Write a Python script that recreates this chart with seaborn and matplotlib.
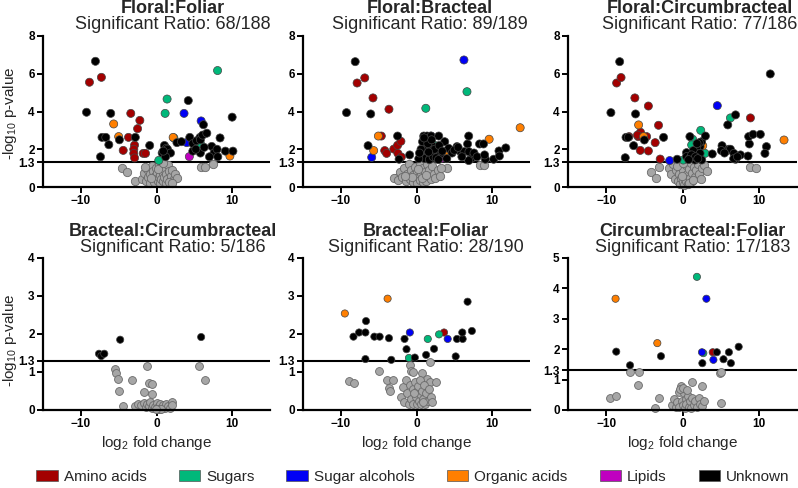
import numpy as np
import pandas as pd
import matplotlib
matplotlib.use('Agg')
import matplotlib.pyplot as plt
from matplotlib.patches import Patch
import seaborn as sns

# Metabolite classes and their colours (legend order)
categories = ['Amino acids', 'Sugars', 'Sugar alcohols', 'Organic acids', 'Lipids', 'Unknown']
class_colors = ['#a30000', '#00b87a', '#0000f5', '#ff7f00', '#c000c0', '#000000']
grey_fill = '#a6a6a6'

# Panel 1: Floral:Foliar  (log2 fold change, -log10 p)
ff_grey = [(-4.5, 0.99), (-3.95, 0.78), (-2.8, 0.32), (5.9, 1.06), (6.45, 1.06), (7.5, 1.22),
           (-1.9, 0.45), (-1.6, 0.75), (-1.4, 0.3), (-1.2, 0.95), (-1.1, 0.55), (-0.9, 0.2), (-0.8, 0.7),
           (-0.6, 1.1), (-0.5, 0.4), (-0.4, 0.85), (-0.3, 0.25), (-0.2, 0.6), (-0.1, 1.0), (0.0, 0.45),
           (0.1, 0.75), (0.2, 0.3), (0.3, 1.2), (0.3, 0.55), (0.4, 0.9), (0.5, 0.2), (0.5, 0.65), (0.6, 0.4),
           (0.7, 1.05), (0.8, 0.75), (0.9, 0.3), (1.0, 0.55), (1.1, 0.9), (1.2, 0.2), (1.3, 0.7), (1.4, 0.45),
           (1.5, 1.15), (1.6, 0.85), (1.8, 0.3), (1.9, 0.6), (2.1, 0.9), (2.3, 0.4), (2.5, 0.7), (2.7, 0.5),
           (0.2, 0.95), (-0.7, 0.5), (0.9, 1.25), (1.7, 0.25), (-1.5, 1.05), (2.0, 0.2)]
ff_amino = [(-8.86, 5.55), (-7.28, 5.81), (-3.4, 3.9), (-2.2, 3.53), (-2.5, 3.09), (-3.7, 2.63), (-2.9, 2.22),
            (-3.0, 2.0), (-3.0, 1.78), (-2.9, 1.54), (-4.4, 1.94), (-1.75, 1.78), (-1.45, 1.78)]
ff_sugars = [(8.07, 6.17), (1.4, 4.66), (1.14, 3.9), (2.3, 2.6), (0.3, 1.41), (5.8, 2.3)]
ff_sugalc = [(3.64, 3.9), (5.9, 3.5), (4.0, 2.35)]
ff_organic = [(-5.66, 3.34), (-5.0, 2.67), (2.2, 2.63), (9.7, 1.64)]
ff_lipids = [(4.34, 1.61)]
ff_unknown = [(-8.07, 6.66), (-9.25, 3.96), (-6.05, 3.9), (-7.2, 2.63), (-6.7, 2.63), (-6.3, 2.24), (-7.4, 1.6),
              (-4.9, 2.5), (-2.8, 2.63), (-0.9, 2.2), (1.05, 2.2), (1.3, 2.05), (1.45, 2.0), (0.75, 1.8),
              (1.85, 1.8), (4.2, 4.58), (4.4, 2.63), (4.8, 1.9), (4.8, 2.3), (5.3, 2.45), (5.75, 2.63),
              (5.8, 2.5), (6.1, 2.75), (6.2, 3.3), (6.65, 2.85), (5.8, 1.8), (2.7, 2.35), (7.3, 2.15),
              (7.6, 1.8), (8.0, 2.0), (8.1, 1.6), (9.1, 1.9), (8.4, 2.6), (10.0, 3.7), (10.1, 1.9),
              (1.2, 1.6), (5.2, 2.0), (6.3, 2.1), (0.9, 1.9), (7.0, 1.6), (3.3, 2.4)]

# Panel 2: Floral:Bracteal
fb_grey = [(-2.76, 0.46), (4.0, 1.02), (8.4, 1.18), (8.9, 1.18),
           (-3.0, 0.5), (-2.5, 0.35), (-2.2, 0.8), (-1.9, 0.55), (-1.6, 1.0), (-1.4, 0.3), (-1.2, 0.7),
           (-1.0, 1.2), (-0.9, 0.45), (-0.7, 0.9), (-0.5, 0.25), (-0.4, 0.65), (-0.2, 1.05), (-0.1, 0.4),
           (0.0, 0.8), (0.1, 0.2), (0.3, 0.55), (0.4, 1.15), (0.5, 0.35), (0.6, 0.75), (0.8, 0.25),
           (0.9, 1.0), (1.0, 0.5), (1.1, 0.8), (1.3, 0.3), (1.4, 1.2), (1.5, 0.6), (1.7, 0.9), (1.9, 0.4),
           (2.1, 1.1), (2.3, 0.7), (2.5, 0.5), (2.8, 0.9), (3.1, 0.6), (3.3, 1.0), (0.2, 0.95),
           (-0.6, 0.55), (0.7, 0.5), (1.2, 0.65), (-1.5, 0.6)]
fb_amino = [(-7.85, 5.51), (-6.84, 5.78), (-5.75, 4.72), (-3.64, 4.12), (-4.65, 2.7), (-4.2, 1.93),
            (-3.95, 1.78), (-3.0, 2.01), (-2.5, 2.21), (-2.06, 2.42), (-2.46, 1.78), (-2.0, 1.59)]
fb_sugars = [(6.67, 5.05), (1.23, 4.17), (2.5, 2.19), (1.2, 1.9)]
fb_sugalc = [(6.27, 6.73), (-5.92, 1.57), (1.9, 2.7), (0.7, 1.9)]
fb_organic = [(13.7, 3.14), (9.6, 2.53), (-5.04, 2.7), (-5.66, 1.93), (1.18, 2.49), (3.73, 1.7)]
fb_lipids = [(3.38, 1.52)]
fb_unknown = [(-8.1, 6.64), (-9.25, 3.94), (-6.05, 3.87), (-6.4, 2.19), (-2.5, 2.7), (-0.9, 1.7), (-2.3, 1.47),
              (0.96, 2.7), (1.4, 2.7), (1.93, 2.7), (2.94, 2.7), (1.18, 2.31), (1.62, 2.14), (0.96, 1.96),
              (0.53, 1.61), (1.4, 1.61), (1.93, 1.75), (2.7, 1.96), (3.16, 1.75), (3.73, 2.4), (4.25, 2.05),
              (5.35, 2.14), (5.8, 1.87), (6.3, 1.87), (6.75, 2.28), (6.9, 2.7), (6.93, 1.87), (7.2, 1.5),
              (6.9, 1.4), (8.33, 2.28), (8.86, 2.28), (9.1, 1.47), (10.2, 1.47), (10.9, 1.91), (10.96, 1.64),
              (11.8, 2.07), (1.75, 2.42), (2.3, 2.14),
              (0.6, 2.0), (0.8, 2.4), (1.1, 1.5), (1.5, 2.3), (1.7, 1.45), (2.0, 2.5), (2.2, 1.6), (2.4, 2.0),
              (0.3, 1.5), (1.0, 2.6), (2.6, 1.55), (3.0, 2.2), (3.4, 1.9), (4.7, 1.8), (5.0, 1.95), (5.5, 2.1),
              (7.6, 1.8), (8.0, 1.6), (9.0, 1.7), (6.0, 1.6), (4.0, 1.5), (0.4, 1.8), (1.6, 1.85), (2.9, 1.45)]

# Panel 3: Floral:Circumbracteal
fc_grey = [(-3.1, 1.08), (-4.16, 0.81), (-3.45, 0.49), (8.8, 1.08), (9.6, 0.99),
           (-1.8, 1.0), (-1.5, 0.7), (-1.3, 1.2), (-1.0, 0.45), (-0.9, 0.9), (-0.6, 0.3), (-0.5, 0.7),
           (-0.3, 0.15), (-0.2, 0.5), (0.0, 0.25), (0.0, 0.9), (0.2, 0.1), (0.3, 0.45), (0.4, 1.15),
           (0.5, 0.3), (0.6, 0.7), (0.7, 0.15), (0.8, 0.95), (1.0, 0.5), (1.1, 1.25), (1.2, 0.3), (1.3, 0.75),
           (1.5, 1.05), (1.6, 0.55), (1.8, 0.9), (2.0, 1.2), (2.2, 0.7), (2.5, 1.0), (2.8, 1.15), (3.2, 0.85),
           (-0.1, 0.6), (0.9, 0.2), (1.4, 0.35), (-0.7, 1.1), (0.1, 1.25), (2.4, 0.45)]
fc_amino = [(-8.63, 5.51), (-8.05, 5.8), (-6.24, 4.72), (-4.47, 4.29), (-5.5, 2.9), (-3.14, 3.27), (-5.8, 2.67),
            (-7.0, 2.67), (-4.7, 2.67), (-3.58, 2.35), (-5.53, 1.94), (-4.47, 1.91), (-2.92, 1.48),
            (8.9, 3.66), (-5.9, 2.75)]
fc_sugars = [(6.28, 3.66), (2.39, 3.0), (1.33, 2.53), (1.2, 2.23), (2.96, 1.78), (0.1, 1.43)]
fc_sugalc = [(4.56, 4.31), (-1.68, 1.4)]
fc_organic = [(-5.75, 3.29), (13.3, 2.49), (2.65, 2.19), (-5.1, 2.67), (5.7, 1.9)]
fc_lipids = []
fc_unknown = [(-8.23, 6.64), (-9.38, 3.94), (-6.15, 3.87), (-7.4, 2.63), (-7.1, 2.63), (-6.4, 2.19), (-7.5, 1.55),
              (-5.0, 2.49), (-2.48, 2.63), (11.5, 5.99), (5.93, 3.29), (6.95, 3.82), (5.18, 2.19), (6.06, 2.0),
              (6.28, 2.0), (5.09, 1.93), (6.73, 1.78), (7.6, 1.7), (6.95, 1.47), (6.7, 1.5), (8.58, 1.64),
              (8.76, 2.28), (8.67, 2.67), (9.25, 2.79), (10.2, 2.79), (11.0, 2.14), (10.8, 1.78), (3.9, 1.75),
              (0.97, 2.67), (2.5, 2.4), (3.0, 2.7), (2.3, 2.14), (1.86, 2.0), (1.42, 1.93), (0.53, 1.82),
              (0.53, 1.61), (0.97, 1.52), (2.3, 1.78), (1.64, 1.43), (2.52, 1.43), (1.2, 1.7), (-0.7, 1.47),
              (2.2, 2.35), (1.7, 1.6), (2.0, 1.5), (0.8, 1.45), (1.9, 2.3), (5.5, 1.8), (7.2, 1.6)]

# Panel 4: Bracteal:Circumbracteal
bc_grey = [(-5.47, 1.07), (-5.3, 0.97), (-5.1, 0.81), (-5.0, 0.51), (-4.4, 0.1), (-3.3, 0.79), (-1.27, 1.15),
           (-1.05, 0.72), (-0.66, 0.69), (-1.6, 0.48), (-0.57, 0.42), (5.65, 1.15), (6.35, 0.79),
           (-2.8, 0.1), (-2.4, 0.15), (-2.0, 0.12), (-1.7, 0.18), (-1.4, 0.08), (-1.2, 0.16), (-1.0, 0.1),
           (-0.8, 0.2), (-0.6, 0.05), (-0.4, 0.14), (-0.2, 0.08), (0.0, 0.18), (0.1, 0.04), (0.3, 0.1),
           (0.4, 0.03), (0.5, 0.15), (0.7, 0.06), (0.9, 0.12), (1.1, 0.05), (1.3, 0.17), (1.5, 0.1),
           (1.8, 0.06), (2.0, 0.22), (2.1, 0.13), (0.2, 0.02), (0.6, 0.02), (-0.1, 0.03)]
bc_amino, bc_sugars, bc_sugalc, bc_organic, bc_lipids = [], [], [], [], []
bc_unknown = [(-7.6, 1.48), (-7.3, 1.42), (-6.9, 1.48), (-4.8, 1.85), (5.9, 1.92)]

# Panel 5: Bracteal:Foliar
bf_grey = [(-8.9, 0.76), (-8.3, 0.7), (-4.96, 1.02), (-3.86, 0.8), (-3.07, 0.8), (-3.7, 0.58), (-3.5, 0.5),
           (-0.8, 1.18), (-0.7, 1.03), (-0.43, 1.0), (1.84, 1.27), (0.75, 0.97), (1.4, 0.82), (1.84, 0.75),
           (2.6, 0.73), (-2.0, 0.35), (-1.8, 0.6), (-1.6, 0.2), (-1.4, 0.8), (-1.2, 0.45), (-1.0, 0.15),
           (-0.9, 0.65), (-0.7, 0.3), (-0.5, 0.55), (-0.4, 0.15), (-0.2, 0.75), (-0.1, 0.35), (0.0, 0.5),
           (0.1, 0.15), (0.2, 0.62), (0.3, 0.25), (0.4, 0.42), (0.5, 0.8), (0.6, 0.15), (0.7, 0.5), (0.9, 0.3),
           (1.0, 0.65), (1.1, 0.15), (1.3, 0.45), (1.5, 0.25), (1.7, 0.55), (1.9, 0.35), (2.1, 0.2),
           (-0.3, 0.45), (0.8, 0.2)]
bf_amino = [(3.64, 2.04)]
bf_sugars = [(1.49, 1.87), (2.98, 1.99), (-1.0, 1.37)]
bf_sugalc = [(-0.88, 2.04), (4.12, 1.87)]
bf_organic = [(-9.47, 2.54), (-3.82, 2.93)]
bf_lipids = []
bf_unknown = [(-8.33, 1.93), (-7.59, 2.04), (-6.75, 2.04), (-6.67, 2.34), (-5.57, 1.93), (-4.87, 1.93),
              (-3.64, 1.89), (-1.58, 1.87), (-1.32, 1.6), (-0.22, 1.38), (1.27, 1.45), (2.32, 1.61),
              (5.18, 1.41), (5.35, 1.87), (6.1, 1.87), (6.05, 2.04), (6.75, 2.85), (7.32, 2.08),
              (-6.75, 1.34), (-3.33, 1.32)]

# Panel 6: Circumbracteal:Foliar
cf_grey = [(-9.56, 0.41), (-8.72, 0.46), (-6.83, 1.26), (-5.64, 1.24), (-5.86, 0.82), (-3.66, 0.05),
           (-3.08, 0.38), (1.28, 0.93), (2.5, 0.8), (4.85, 1.21), (5.07, 1.24), (5.07, 0.22),
           (-1.4, 0.15), (-1.1, 0.35), (-0.9, 0.1), (-0.7, 0.25), (-0.5, 0.6), (-0.4, 0.1), (-0.2, 0.8),
           (-0.1, 0.3), (0.0, 0.15), (0.2, 0.55), (0.3, 0.05), (0.4, 0.35), (0.5, 0.2), (0.7, 0.45),
           (0.8, 0.1), (1.0, 0.3), (1.1, 0.08), (1.3, 0.4), (1.5, 0.15), (1.7, 0.3), (1.9, 0.1), (2.1, 0.38),
           (2.3, 0.2), (2.6, 0.12), (2.8, 0.3), (-0.3, 0.68), (0.1, 0.72), (0.6, 0.65)]
cf_amino = [(3.96, 1.9)]
cf_sugars = [(1.89, 4.38), (2.73, 1.87)]
cf_sugalc = [(3.13, 3.66), (2.55, 1.9), (4.05, 1.65)]
cf_organic = [(-8.77, 3.66), (-3.3, 2.2)]
cf_lipids = []
cf_unknown = [(-8.68, 1.92), (-6.87, 1.47), (-2.82, 1.77), (2.6, 1.54), (4.5, 1.9), (5.37, 1.67),
              (6.08, 1.9), (6.34, 1.54), (7.36, 2.08)]

titles = ['Floral:Foliar', 'Floral:Bracteal', 'Floral:Circumbracteal',
          'Bracteal:Circumbracteal', 'Bracteal:Foliar', 'Circumbracteal:Foliar']
ratios = ['68/188', '89/189', '77/186', '5/186', '28/190', '17/183']
panel_ymax = [8, 8, 8, 4, 4, 5]
panel_yticks = [[0, 1.3, 2, 4, 6, 8], [0, 1.3, 2, 4, 6, 8], [0, 1.3, 2, 4, 6, 8],
                [0, 1, 1.3, 2, 3, 4], [0, 1, 1.3, 2, 3, 4], [0, 1, 1.3, 2, 3, 4, 5]]
panels = [
    (ff_grey, [ff_amino, ff_sugars, ff_sugalc, ff_organic, ff_lipids, ff_unknown]),
    (fb_grey, [fb_amino, fb_sugars, fb_sugalc, fb_organic, fb_lipids, fb_unknown]),
    (fc_grey, [fc_amino, fc_sugars, fc_sugalc, fc_organic, fc_lipids, fc_unknown]),
    (bc_grey, [bc_amino, bc_sugars, bc_sugalc, bc_organic, bc_lipids, bc_unknown]),
    (bf_grey, [bf_amino, bf_sugars, bf_sugalc, bf_organic, bf_lipids, bf_unknown]),
    (cf_grey, [cf_amino, cf_sugars, cf_sugalc, cf_organic, cf_lipids, cf_unknown]),
]

sns.set_style('ticks')
plt.rcParams['font.family'] = ['Liberation Sans', 'DejaVu Sans']
plt.rcParams['mathtext.fontset'] = 'custom'
plt.rcParams['mathtext.rm'] = 'Liberation Sans'
plt.rcParams['mathtext.it'] = 'Liberation Sans:italic'

fig = plt.figure(figsize=(7.98, 4.88), dpi=100)
W, H = 798.0, 488.0
lefts = [43, 303, 568]
widths = [227, 227, 229]
tops = [36, 258]
bottoms = [187, 410]
title_x = [0.57, 0.56, 0.574, 0.57, 0.54, 0.545]

palette = dict(zip(categories, class_colors))

for i, (grey, groups) in enumerate(panels):
    row, col = divmod(i, 3)
    ax = fig.add_axes([lefts[col] / W, 1 - bottoms[row] / H, widths[col] / W,
                       (bottoms[row] - tops[row]) / H])

    # non-significant metabolites first, in grey
    gdf = pd.DataFrame(grey, columns=['fc', 'p'])
    sns.scatterplot(data=gdf, x='fc', y='p', color=grey_fill, edgecolor='#6a6a6a',
                    linewidth=0.6, s=36 if row == 0 else 32, ax=ax, clip_on=False, zorder=2)

    rows = []
    for cat, pts in zip(categories, groups):
        for x, y in pts:
            rows.append((x, y, cat))
    sdf = pd.DataFrame(rows, columns=['fc', 'p', 'group'])
    ms = 34 if row == 0 else 27
    sns.scatterplot(data=sdf, x='fc', y='p', hue='group', palette=palette, legend=False,
                    edgecolor='#444444', linewidth=0.5, s=ms, ax=ax, zorder=3)

    ax.axhline(1.3, color='black', lw=1.5, zorder=1)
    ax.set_xlim(-15, 15)
    ax.set_ylim(0, panel_ymax[i])
    ax.set_xticks([-10, 0, 10])
    ax.set_yticks(panel_yticks[i])
    ax.set_yticklabels(['1.3' if t == 1.3 else str(int(t)) for t in panel_yticks[i]])
    sns.despine(ax=ax)
    for side in ['left', 'bottom']:
        ax.spines[side].set_linewidth(1.6)
        ax.spines[side].set_color('black')
    ax.tick_params(length=4, width=1.4, labelsize=8.5, pad=2, colors='black')
    for lab in ax.get_xticklabels() + ax.get_yticklabels():
        lab.set_fontweight('bold')
    ax.set_ylabel('')
    if row == 1:
        ax.set_xlabel(r'log$_{2}$ fold change', fontsize=11, labelpad=3)
    else:
        ax.set_xlabel('')

    h = bottoms[row] - tops[row]
    y_bold = 1 + (23 if row == 0 else 22) / h
    y_sub = 1 + (7 if row == 0 else 6.3) / h
    ax.text(title_x[i], y_bold, titles[i], transform=ax.transAxes, ha='center', va='baseline',
            fontsize=13, fontweight='bold')
    ax.text(title_x[i], y_sub, 'Significant Ratio: ' + ratios[i], transform=ax.transAxes,
            ha='center', va='baseline', fontsize=13)

for yc in [113, 340]:
    fig.text(10 / W, 1 - yc / H, r'-log$_{10}$ p-value', rotation=90, ha='center', va='center', fontsize=11)

handles = [Patch(facecolor=c, edgecolor='#555555', linewidth=0.5) for c in class_colors]
fig.legend(handles, categories, loc='center', bbox_to_anchor=(0.5 + 14 / W, 1 - 477 / H), ncol=6,
           frameon=False, fontsize=11, handlelength=1.4, handleheight=0.75, handletextpad=0.4,
           columnspacing=2.1)

fig.savefig('out.png', dpi=100)
